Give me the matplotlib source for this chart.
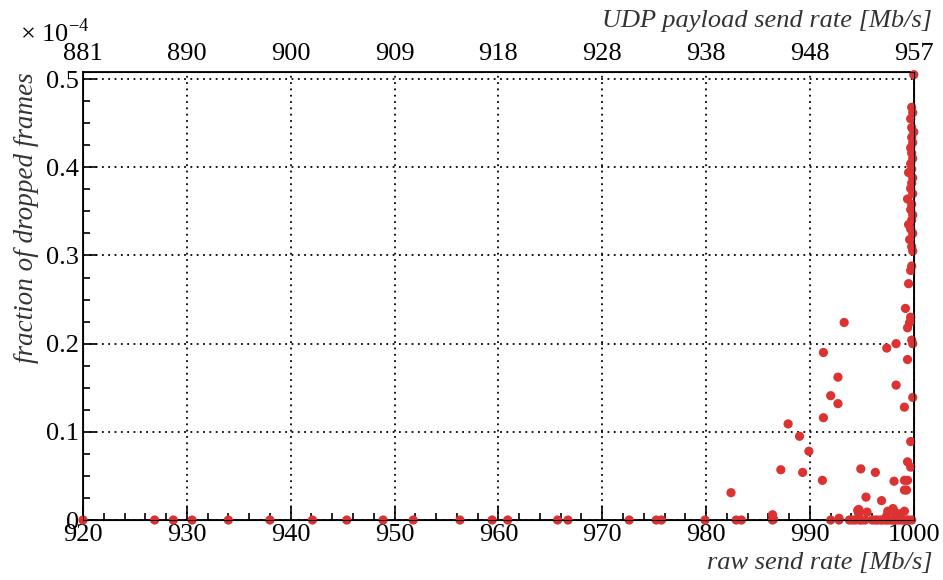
import matplotlib
matplotlib.use("Agg")
from matplotlib import pyplot as plt
from matplotlib.ticker import MultipleLocator

plt.rcParams['font.family'] = ['Liberation Serif', 'DejaVu Serif']
plt.rcParams['mathtext.fontset'] = 'custom'
plt.rcParams['mathtext.rm'] = 'Liberation Serif'

# raw send rate [Mb/s] and fraction of dropped frames (x 1e-4)
zero_rates = [920.0, 926.9, 928.7, 930.5, 934.0, 938.0, 942.1, 945.4, 948.9, 951.8,
              956.3, 959.4, 960.9, 965.7, 966.7, 972.6, 975.2, 975.7, 979.9, 982.9,
              983.4, 986.4, 992.0, 992.8, 993.8, 994.1, 994.4, 994.8, 995.0, 995.3,
              996.0, 996.3, 996.5, 996.8, 997.0, 997.3, 997.5, 997.8, 998.0, 998.2,
              998.5, 998.8, 999.0, 999.3, 999.5, 999.8]
zero_drops = [0.0] * len(zero_rates)

low_rates = [982.4, 986.4, 986.5, 987.2, 987.9, 989.0, 989.3, 989.9, 991.2, 991.3,
             991.3, 992.0, 992.7, 992.7, 992.8, 993.3, 994.6, 994.7, 994.7, 994.9,
             995.4, 995.5, 996.3, 996.9, 997.4, 997.4, 997.5, 998.0, 998.1, 998.1,
             998.3, 998.3, 998.6, 999.1, 999.1, 999.1, 999.1, 999.2, 999.3, 999.4,
             999.4, 999.4, 999.4, 999.5, 999.5, 999.6, 999.7, 999.7, 999.7, 999.8,
             999.8, 999.9, 999.9, 999.9, 999.7]
low_drops = [0.031, 0.006, 0.001, 0.057, 0.109, 0.095, 0.054, 0.078, 0.045, 0.116,
             0.190, 0.141, 0.162, 0.132, 0.002, 0.224, 0.011, 0.012, 0.007, 0.058,
             0.026, 0.009, 0.054, 0.022, 0.005, 0.195, 0.010, 0.013, 0.010, 0.044,
             0.200, 0.153, 0.007, 0.010, 0.034, 0.045, 0.128, 0.240, 0.034, 0.045,
             0.066, 0.182, 0.218, 0.268, 0.335, 0.224, 0.060, 0.089, 0.230, 0.204,
             0.288, 0.139, 0.200, 0.305, 0.283]

col_rates = [999.8, 999.9, 999.7, 999.8, 1000.0, 999.8, 999.9, 999.7, 999.8, 999.9,
             999.7, 999.8, 999.5, 999.9, 999.8, 999.7, 999.9, 999.4, 999.8, 999.7,
             999.9, 999.8, 999.7, 999.9, 999.6, 999.8, 1000.0]
col_drops = [0.468, 0.462, 0.455, 0.445, 0.440, 0.434, 0.428, 0.422, 0.416, 0.410,
             0.404, 0.398, 0.394, 0.388, 0.382, 0.376, 0.370, 0.364, 0.358, 0.352,
             0.346, 0.340, 0.330, 0.325, 0.318, 0.310, 0.505]

raw_ticks = [920, 930, 940, 950, 960, 970, 980, 990, 1000]
udp_labels = ['881', '890', '900', '909', '918', '928', '938', '948', '957']
drop_ticks = [0, 0.1, 0.2, 0.3, 0.4, 0.5]
drop_labels = ['0', '0.1', '0.2', '0.3', '0.4', '0.5']

rates = zero_rates + low_rates + col_rates
drops = zero_drops + low_drops + col_drops

fig = plt.figure(figsize=(9.43, 5.8), dpi=100)
ax = fig.add_axes([0.088, 0.1034, 0.881, 0.7724])

ax.scatter(rates, drops, s=44, color='#dc3232', edgecolors='none', zorder=5, clip_on=False)

ax.set_xlim(920, 1000)
ax.set_ylim(0, 0.508)
ax.set_xticks(raw_ticks)
ax.xaxis.set_minor_locator(MultipleLocator(2))
ax.set_yticks(drop_ticks)
ax.set_yticklabels(drop_labels)
ax.yaxis.set_minor_locator(MultipleLocator(0.025))

ax.tick_params(which='both', direction='in', top=False, right=False,
               labelsize=19, width=1.2, colors='black', pad=3)
ax.tick_params(which='major', length=10)
ax.tick_params(which='minor', length=5)
ax.grid(True, which='major', linestyle=(0, (1, 2.5)), color='black', linewidth=1.3)

for s in ax.spines.values():
    s.set_linewidth(1.3)

top = ax.twiny()
top.set_xlim(ax.get_xlim())
top.set_xticks(raw_ticks)
top.set_xticklabels(udp_labels)
top.tick_params(length=0, labelsize=19, pad=5)

ax.set_xlabel('raw send rate [Mb/s]', fontsize=19, style='italic', color='#333333')
ax.xaxis.set_label_coords(1.023, -0.072)
ax.xaxis.label.set_ha('right')
ax.set_ylabel('fraction of dropped frames', fontsize=19.5, style='italic', color='#333333')
ax.yaxis.set_label_coords(-0.083, 1.0)
ax.yaxis.label.set_va('top')
ax.yaxis.label.set_ha('right')
top.set_xlabel('UDP payload send rate [Mb/s]', fontsize=19, style='italic', color='#333333')
top.xaxis.set_label_coords(1.022, 1.1)
top.xaxis.label.set_ha('right')

fig.text(0.021, 0.928, r'$\mathregular{\times}$ 10$^{\mathregular{-4}}$', fontsize=19)

fig.savefig('out.png', dpi=100)
